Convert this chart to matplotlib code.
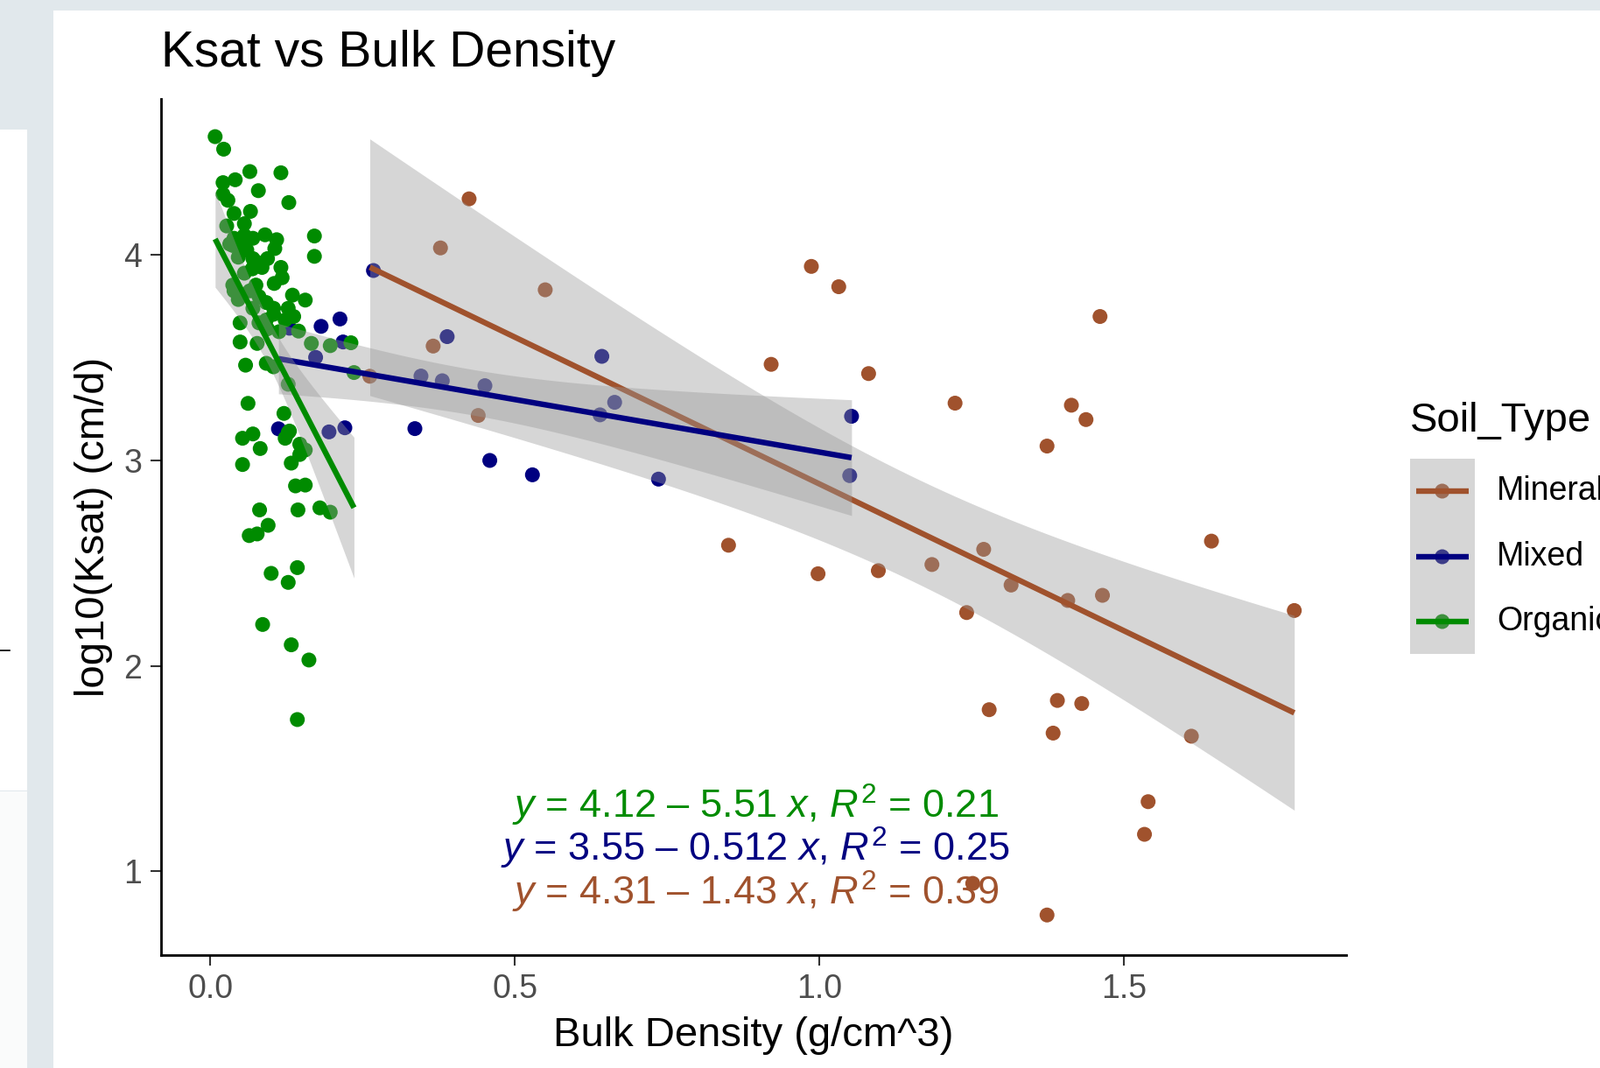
import numpy as np
import matplotlib
matplotlib.use("Agg")
import matplotlib.pyplot as plt
from matplotlib.patches import Rectangle
from matplotlib.lines import Line2D

plt.rcParams['font.family'] = ['Liberation Sans', 'DejaVu Sans']
plt.rcParams['mathtext.fontset'] = 'custom'
plt.rcParams['mathtext.rm'] = 'Liberation Sans'
plt.rcParams['mathtext.it'] = 'Liberation Sans:italic'

# ---- data ----
mineral_bd = [0.262, 0.366, 0.378, 0.425, 0.440, 0.550, 0.851, 0.921, 0.987, 0.998,
              1.032, 1.081, 1.097, 1.185, 1.223, 1.242, 1.252, 1.270, 1.279, 1.315,
              1.374, 1.374, 1.384, 1.391, 1.408, 1.414, 1.431, 1.438, 1.461, 1.465,
              1.534, 1.540, 1.611, 1.644, 1.780]
mineral_ks = [3.410, 3.557, 4.035, 4.274, 3.219, 3.831, 2.587, 3.468, 3.945, 2.448,
              3.846, 3.423, 2.463, 2.493, 3.279, 2.259, 0.940, 2.567, 1.786, 2.393,
              3.070, 0.786, 1.672, 1.831, 2.318, 3.269, 1.816, 3.199, 3.701, 2.343,
              1.179, 1.338, 1.657, 2.607, 2.269]

mixed_bd = [0.112, 0.130, 0.173, 0.182, 0.195, 0.213, 0.218, 0.221, 0.268, 0.336,
            0.346, 0.381, 0.389, 0.451, 0.459, 0.529, 0.640, 0.643, 0.664, 0.736,
            1.050, 1.053]
mixed_ks = [3.154, 3.644, 3.502, 3.653, 3.139, 3.689, 3.577, 3.159, 3.925, 3.155,
            3.411, 3.388, 3.603, 3.364, 3.000, 2.930, 3.222, 3.507, 3.283, 2.909,
            2.926, 3.215]

organic_bd = [0.008, 0.022, 0.065, 0.116, 0.021, 0.041, 0.079, 0.021, 0.029, 0.129,
              0.039, 0.066, 0.027, 0.056, 0.171, 0.171, 0.039, 0.056, 0.090, 0.109,
              0.037, 0.106, 0.060, 0.046, 0.070, 0.094, 0.116, 0.069, 0.118, 0.105,
              0.039, 0.075, 0.135, 0.156, 0.046, 0.080, 0.104, 0.137, 0.128, 0.049,
              0.092, 0.113, 0.145, 0.166, 0.197, 0.231, 0.049, 0.077, 0.058, 0.092,
              0.104, 0.236, 0.128, 0.062, 0.121, 0.070, 0.128, 0.053, 0.082, 0.130,
              0.123, 0.147, 0.156, 0.147, 0.133, 0.053, 0.140, 0.156, 0.081, 0.144,
              0.180, 0.197, 0.095, 0.064, 0.077, 0.100, 0.143, 0.128, 0.086, 0.133,
              0.162, 0.143,
              0.032, 0.056, 0.070, 0.075, 0.085, 0.056, 0.037, 0.065, 0.092, 0.070,
              0.104, 0.080, 0.094, 0.123]
organic_ks = [4.577, 4.516, 4.407, 4.401, 4.353, 4.367, 4.314, 4.296, 4.267, 4.256,
              4.203, 4.213, 4.142, 4.153, 4.093, 3.994, 4.082, 4.096, 4.099, 4.075,
              4.047, 4.032, 4.025, 3.990, 3.983, 3.983, 3.940, 3.933, 3.890, 3.862,
              3.826, 3.854, 3.805, 3.781, 3.784, 3.798, 3.741, 3.701, 3.741, 3.670,
              3.684, 3.627, 3.630, 3.570, 3.559, 3.573, 3.577, 3.570, 3.464, 3.473,
              3.456, 3.428, 3.371, 3.278, 3.229, 3.129, 3.136, 3.108, 3.058, 3.143,
              3.108, 3.079, 3.051, 3.029, 2.987, 2.980, 2.876, 2.880, 2.759, 2.759,
              2.769, 2.748, 2.684, 2.634, 2.642, 2.450, 2.478, 2.406, 2.201, 2.102,
              2.028, 1.738,
              4.054, 4.047, 4.082, 3.968, 3.940, 3.912, 3.854, 3.826, 3.769, 3.741,
              3.712, 3.670, 3.641, 3.684]

soil_types = ['Mineral', 'Mixed', 'Organic']
soil_colors = ['#A0522D', '#000080', '#008B00']
equations = [r'$y$ = 4.12 – 5.51 $x$, $R^{2}$ = 0.21',
             r'$y$ = 3.55 – 0.512 $x$, $R^{2}$ = 0.25',
             r'$y$ = 4.31 – 1.43 $x$, $R^{2}$ = 0.39']
equation_colors = ['#008B00', '#000080', '#A0522D']
equation_y = [1.32, 1.11, 0.90]

W, H = 1828, 1220
PT_SIZE = 150
LINE_W = 4.6


def t975(df):
    z = 1.959964
    g1 = (z**3 + z) / 4
    g2 = (5 * z**5 + 16 * z**3 + 3 * z) / 96
    g3 = (3 * z**7 + 19 * z**5 + 17 * z**3 - 15 * z) / 384
    return z + g1 / df + g2 / df**2 + g3 / df**3


def lm_smooth(x, y, n=80):
    x = np.asarray(x)
    y = np.asarray(y)
    b, a = np.polyfit(x, y, 1)
    xs = np.linspace(x.min(), x.max(), n)
    fit = a + b * xs
    df = len(x) - 2
    s = np.sqrt(np.sum((y - (a + b * x))**2) / df)
    sxx = np.sum((x - x.mean())**2)
    se = s * np.sqrt(1 / len(x) + (xs - x.mean())**2 / sxx)
    t = t975(df)
    return xs, fit, fit - t * se, fit + t * se


def fx(px):
    return px / W


def fy(py):
    return 1 - py / H


fig = plt.figure(figsize=(W / 100, H / 100), dpi=100, facecolor='#E1E8EC')

# screenshot surroundings
fig.add_artist(Rectangle((fx(61), 0), 1 - fx(61), fy(12), transform=fig.transFigure,
                         facecolor='white', edgecolor='none', zorder=0))
fig.add_artist(Rectangle((0, fy(903)), fx(31), fy(148) - fy(903), transform=fig.transFigure,
                         facecolor='white', edgecolor='none', zorder=0))
fig.add_artist(Rectangle((0, 0), fx(31), fy(904), transform=fig.transFigure,
                         facecolor='#FAFBFB', edgecolor='none', zorder=0))
fig.add_artist(Line2D([0, fx(11)], [fy(743), fy(743)], transform=fig.transFigure,
                      color='black', lw=1.2, zorder=1))

ax = fig.add_axes([fx(184), fy(1090.5), fx(1538) - fx(184), fy(112.7) - fy(1090.5)])
ax.set_facecolor('white')

groups = [(mineral_bd, mineral_ks), (mixed_bd, mixed_ks), (organic_bd, organic_ks)]

# points first (ggplot layer order), then smooths per group
for (bd, ks), col in zip(groups, soil_colors):
    ax.scatter(bd, ks, s=PT_SIZE, color=col, edgecolors='none', zorder=2)

for (bd, ks), col in zip(groups, soil_colors):
    xs, fit, lo, hi = lm_smooth(bd, ks)
    ax.fill_between(xs, lo, hi, color='#999999', alpha=0.4, linewidth=0, zorder=3)
    ax.plot(xs, fit, color=col, lw=LINE_W, zorder=3, solid_capstyle='butt')

for eq, col, yy in zip(equations, equation_colors, equation_y):
    ax.text(0.895, yy, eq, color=col, fontsize=32.5, ha='center', va='center', zorder=4)

ax.set_xlim(-0.0808, 1.8652)
ax.set_ylim(0.593, 4.762)
ax.set_xticks([0.0, 0.5, 1.0, 1.5])
ax.set_xticklabels(['0.0', '0.5', '1.0', '1.5'])
ax.set_yticks([1, 2, 3, 4])
ax.set_yticklabels(['1', '2', '3', '4'])
for sp in ['top', 'right']:
    ax.spines[sp].set_visible(False)
for sp in ['left', 'bottom']:
    ax.spines[sp].set_linewidth(2.0)
    ax.spines[sp].set_color('black')
ax.tick_params(axis='both', length=8.5, width=1.5, color='#333333',
               labelcolor='#4D4D4D', labelsize=27, pad=7)

fig.text(fx(184), fy(61), 'Ksat vs Bulk Density', fontsize=41, ha='left', va='center')
fig.text(fx(861), fy(1183), 'Bulk Density (g/cm^3)', fontsize=34, ha='center', va='center')
fig.text(fx(107), fy(602), 'log10(Ksat) (cm/d)', fontsize=34, ha='center', va='center',
         rotation=90)

# legend (labels run off the right edge, as in the screenshot)
fig.text(fx(1611), fy(481), 'Soil_Type', fontsize=34, ha='left', va='center')
lax = fig.add_axes([fx(1611), fy(746.5), fx(1684.5) - fx(1611), fy(524) - fy(746.5)])
lax.set_xlim(0, 73.5)
lax.set_ylim(746.5, 524)
lax.axis('off')
key_y = [561, 636, 710]
for name, col, ky in zip(soil_types, soil_colors, key_y):
    lax.scatter([36.75], [ky], s=PT_SIZE, color=col, edgecolors='none', zorder=1)
    lax.plot([6.7, 66.7], [ky, ky], color=col, lw=LINE_W, zorder=3, solid_capstyle='butt')
    fig.text(fx(1710), fy(ky), name, fontsize=27, ha='left', va='center')
lax.add_patch(Rectangle((0, 524), 73.5, 222.5, facecolor='#999999', alpha=0.4,
                        edgecolor='none', zorder=2))

fig.savefig('out.png', dpi=100, facecolor=fig.get_facecolor())
